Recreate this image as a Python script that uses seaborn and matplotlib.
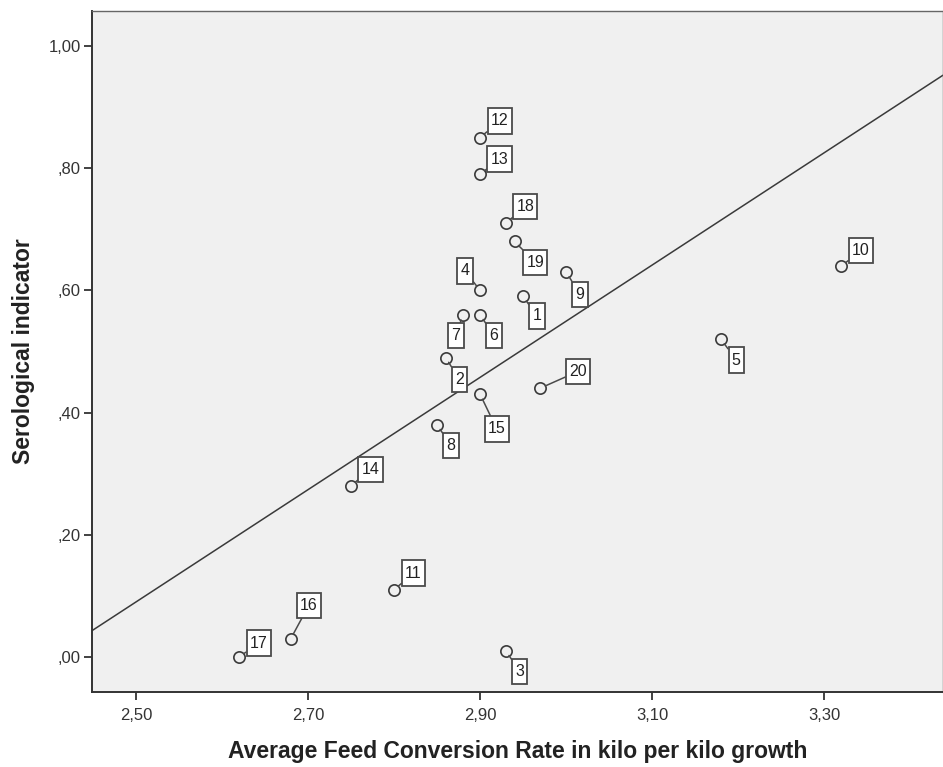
import matplotlib
matplotlib.use("Agg")
import matplotlib.pyplot as plt
import matplotlib.ticker as mticker
from matplotlib.path import Path
import numpy as np
import pandas as pd
import seaborn as sns

# Case numbers, feed conversion rate and serological indicator per farm
case_ids = [1, 2, 3, 4, 5, 6, 7, 8, 9, 10, 11, 12, 13, 14, 15, 16, 17, 18, 19, 20]
feed_conversion = [2.95, 2.86, 2.93, 2.90, 3.18, 2.90, 2.88, 2.85, 3.00, 3.32,
                   2.80, 2.90, 2.90, 2.75, 2.90, 2.68, 2.62, 2.93, 2.94, 2.97]
serological = [0.59, 0.49, 0.01, 0.60, 0.52, 0.56, 0.56, 0.38, 0.63, 0.64,
               0.11, 0.85, 0.79, 0.28, 0.43, 0.03, 0.00, 0.71, 0.68, 0.44]

x_ticks = [2.50, 2.70, 2.90, 3.10, 3.30]
y_ticks = [0.00, 0.20, 0.40, 0.60, 0.80, 1.00]

# Label box offsets (in points) relative to each marker
label_offsets = {
    1: (10, -14), 2: (10, -16), 3: (10, -15), 4: (-11, 14), 5: (11, -15),
    6: (10, -15), 7: (-5, -15), 8: (10, -15), 9: (10, -16), 10: (14, 11),
    11: (14, 12), 12: (14, 12), 13: (14, 11), 14: (14, 12), 15: (12, -25),
    16: (13, 24), 17: (14, 10), 18: (14, 12), 19: (15, -15), 20: (27, 12),
}

df = pd.DataFrame({"case": case_ids, "fcr": feed_conversion, "sero": serological})


def tall_box(x0, y0, width, height, mutation_size):
    """Rectangular label box with more padding above/below than at the sides."""
    px = 0.2 * mutation_size
    py = 0.32 * mutation_size
    x0, y0 = x0 - px, y0 - py
    x1, y1 = x0 + width + 2 * px, y0 + height + 2 * py
    return Path([(x0, y0), (x1, y0), (x1, y1), (x0, y1), (x0, y0)], closed=True)


sns.set_theme(style="white")
plt.rcParams["font.family"] = ["Liberation Sans", "DejaVu Sans"]

fig = plt.figure(figsize=(9.43, 7.67), dpi=100)
ax = fig.add_axes([0.0976, 0.0978, 0.9024, 0.8879])
ax.set_facecolor("#f0f0f0")

xlim = (2.449, 3.438)
ylim = (-0.0573, 1.0573)
ax.set_xlim(*xlim)
ax.set_ylim(*ylim)

# Least-squares fit line across the full axis range
sns.regplot(data=df, x="fcr", y="sero", ax=ax, scatter=False, ci=None,
            truncate=False, line_kws=dict(color="#3a3a3a", lw=1.1))

sns.scatterplot(data=df, x="fcr", y="sero", ax=ax, s=66, marker="o",
                color="#f0f0f0", edgecolor="#3a3a3a", linewidth=1.2, zorder=4)

for cid, xv, yv in zip(case_ids, feed_conversion, serological):
    dx, dy = label_offsets[cid]
    ax.annotate(str(cid), xy=(xv, yv), xytext=(dx, dy), textcoords="offset points",
                ha="center", va="center", fontsize=11.5, color="#222222",
                bbox=dict(boxstyle=tall_box, fc="white", ec="#4a4a4a", lw=1.3),
                arrowprops=dict(arrowstyle="-", color="#4a4a4a", lw=1.1,
                                shrinkA=0, shrinkB=4),
                zorder=5)

ax.set_xlim(*xlim)
ax.set_ylim(*ylim)
ax.set_xticks(x_ticks)
ax.set_yticks(y_ticks)


def comma_fmt(v, pos=None):
    s = f"{v:.2f}".replace(".", ",")
    if s.startswith("0,"):
        s = s[1:]
    return s


ax.xaxis.set_major_formatter(mticker.FuncFormatter(comma_fmt))
ax.yaxis.set_major_formatter(mticker.FuncFormatter(comma_fmt))
ax.tick_params(axis="both", which="major", direction="out", length=6, width=1.3,
               color="#333333", labelsize=12, labelcolor="#333333",
               bottom=True, left=True)
ax.tick_params(axis="x", pad=5.5)
ax.tick_params(axis="y", pad=2)

for side in ["left", "bottom"]:
    ax.spines[side].set_color("#333333")
    ax.spines[side].set_linewidth(1.4)
for side in ["top", "right"]:
    ax.spines[side].set_color("#666666")
    ax.spines[side].set_linewidth(1.0)

ax.set_xlabel("Average Feed Conversion Rate in kilo per kilo growth",
              fontsize=16.5, fontweight="bold", color="#222222", labelpad=12)
ax.set_ylabel("Serological indicator", fontsize=16.5, fontweight="bold",
              color="#222222", labelpad=10)

fig.savefig("out.png", dpi=100, facecolor="white")
